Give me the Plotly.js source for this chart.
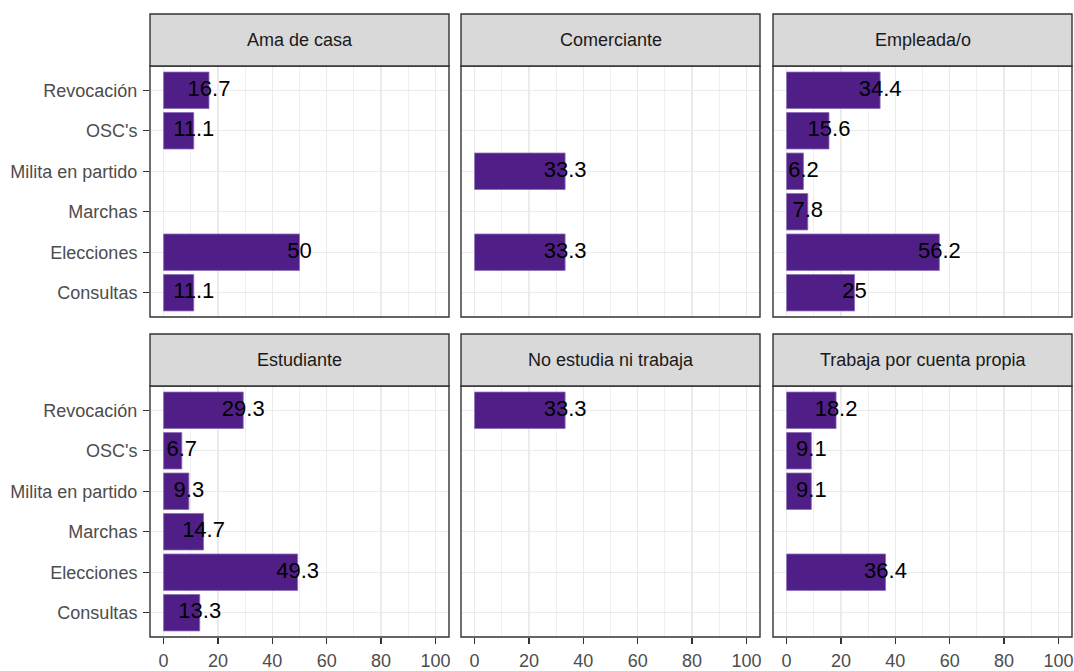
<!DOCTYPE html>
<html>
<head>
<meta charset="utf-8">
<script src="https://cdn.plot.ly/plotly-3.0.1.min.js"></script>
<style>
html,body{margin:0;padding:0;background:#fff;}
#chart{width:1074px;height:671px;}
</style>
</head>
<body>
<div id="chart"></div>
<script>
const categories = ['Revocación', "OSC's", 'Milita en partido', 'Marchas', 'Elecciones', 'Consultas'];
const panels = ['Ama de casa', 'Comerciante', 'Empleada/o', 'Estudiante', 'No estudia ni trabaja', 'Trabaja por cuenta propia'];
const amaDeCasa = [16.7, 11.1, null, null, 50, 11.1];
const comerciante = [null, null, 33.3, null, 33.3, null];
const empleada = [34.4, 15.6, 6.2, 7.8, 56.2, 25];
const estudiante = [29.3, 6.7, 9.3, 14.7, 49.3, 13.3];
const noEstudia = [33.3, null, null, null, null, null];
const cuentaPropia = [18.2, 9.1, 9.1, null, 36.4, null];
const xTicks = [0, 20, 40, 60, 80, 100];
const xMinor = [10, 30, 50, 70, 90];

const panelValues = [amaDeCasa, comerciante, empleada, estudiante, noEstudia, cuentaPropia];

const FONT = '"Liberation Sans", Arial, sans-serif';
const W = 1074, H = 671;
const colPx = [[150, 449], [461, 760], [773, 1072]];
const rowPx = [[66, 317], [386, 637]];
const stripPx = [[14, 66], [334, 386]];

const BAR = '#4F1F87';
const data = [];
const layout = {
  width: W, height: H,
  margin: {l: 0, r: 0, t: 0, b: 0},
  paper_bgcolor: '#fff', plot_bgcolor: '#fff',
  showlegend: false,
  font: {family: FONT, color: '#4D4D4D'},
  shapes: [], annotations: []
};

const catOrder = categories.slice().reverse();

panelValues.forEach((vals, i) => {
  const r = Math.floor(i / 3), c = i % 3;
  const n = i + 1;
  const xa = 'x' + (n === 1 ? '' : n), ya = 'y' + (n === 1 ? '' : n);
  const ys = [], xs = [], txt = [];
  vals.forEach((v, k) => {
    if (v !== null) { ys.push(categories[k]); xs.push(v); txt.push(String(v)); }
  });
  data.push({
    type: 'bar', orientation: 'h', x: xs, y: ys, width: 0.9,
    marker: {color: BAR, line: {color: '#8A6BB8', width: 0.8}},
    xaxis: xa, yaxis: ya, hoverinfo: 'skip'
  });
  data.push({
    type: 'scatter', mode: 'text', x: xs, y: ys, text: txt,
    textposition: 'middle center',
    textfont: {family: FONT, size: 22, color: '#000'},
    xaxis: xa, yaxis: ya, hoverinfo: 'skip', cliponaxis: false
  });
  const xKey = 'xaxis' + (n === 1 ? '' : n), yKey = 'yaxis' + (n === 1 ? '' : n);
  const bottom = r === 1, left = c === 0;
  layout[xKey] = {
    domain: [colPx[c][0] / W, colPx[c][1] / W],
    anchor: ya, range: [-5, 105], fixedrange: true,
    tickmode: 'array', tickvals: xTicks,
    showticklabels: bottom, ticks: bottom ? 'outside' : '',
    ticklen: 6, tickwidth: 1.3, tickcolor: '#333333', ticklabelstandoff: 1,
    tickfont: {family: FONT, size: 18, color: '#4D4D4D'},
    showgrid: true, gridcolor: '#EBEBEB', gridwidth: 1.4,
    minor: {tickmode: 'array', tickvals: xMinor, showgrid: true, gridcolor: '#EBEBEB', gridwidth: 0.8, ticks: ''},
    zeroline: false, showline: false
  };
  layout[yKey] = {
    domain: [(H - rowPx[r][1]) / H, (H - rowPx[r][0]) / H],
    anchor: xa, type: 'category', categoryorder: 'array', categoryarray: catOrder,
    range: [-0.6, 5.6], fixedrange: true,
    showticklabels: left, ticks: left ? 'outside' : '',
    ticklen: 6, tickwidth: 1.3, tickcolor: '#333333', ticklabelstandoff: 2,
    tickfont: {family: FONT, size: 18, color: '#4D4D4D'},
    showgrid: true, gridcolor: '#EBEBEB', gridwidth: 1.4,
    zeroline: false, showline: false
  };
  layout.shapes.push({
    type: 'rect', xref: 'paper', yref: 'paper', layer: 'above',
    x0: colPx[c][0] / W, x1: colPx[c][1] / W,
    y0: (H - rowPx[r][1]) / H, y1: (H - rowPx[r][0]) / H,
    line: {color: '#333333', width: 1.4}, fillcolor: 'rgba(0,0,0,0)'
  });
  layout.shapes.push({
    type: 'rect', xref: 'paper', yref: 'paper', layer: 'above',
    x0: colPx[c][0] / W, x1: colPx[c][1] / W,
    y0: (H - stripPx[r][1]) / H, y1: (H - stripPx[r][0]) / H,
    line: {color: '#333333', width: 1.4}, fillcolor: '#D9D9D9'
  });
  layout.annotations.push({
    xref: 'paper', yref: 'paper',
    x: (colPx[c][0] + colPx[c][1]) / 2 / W,
    y: (H - (stripPx[r][0] + stripPx[r][1]) / 2) / H,
    xanchor: 'center', yanchor: 'middle', showarrow: false,
    text: panels[i], font: {family: FONT, size: 18, color: '#1A1A1A'}
  });
});

Plotly.newPlot('chart', data, layout, {displayModeBar: false, staticPlot: true});
</script>
</body>
</html>
